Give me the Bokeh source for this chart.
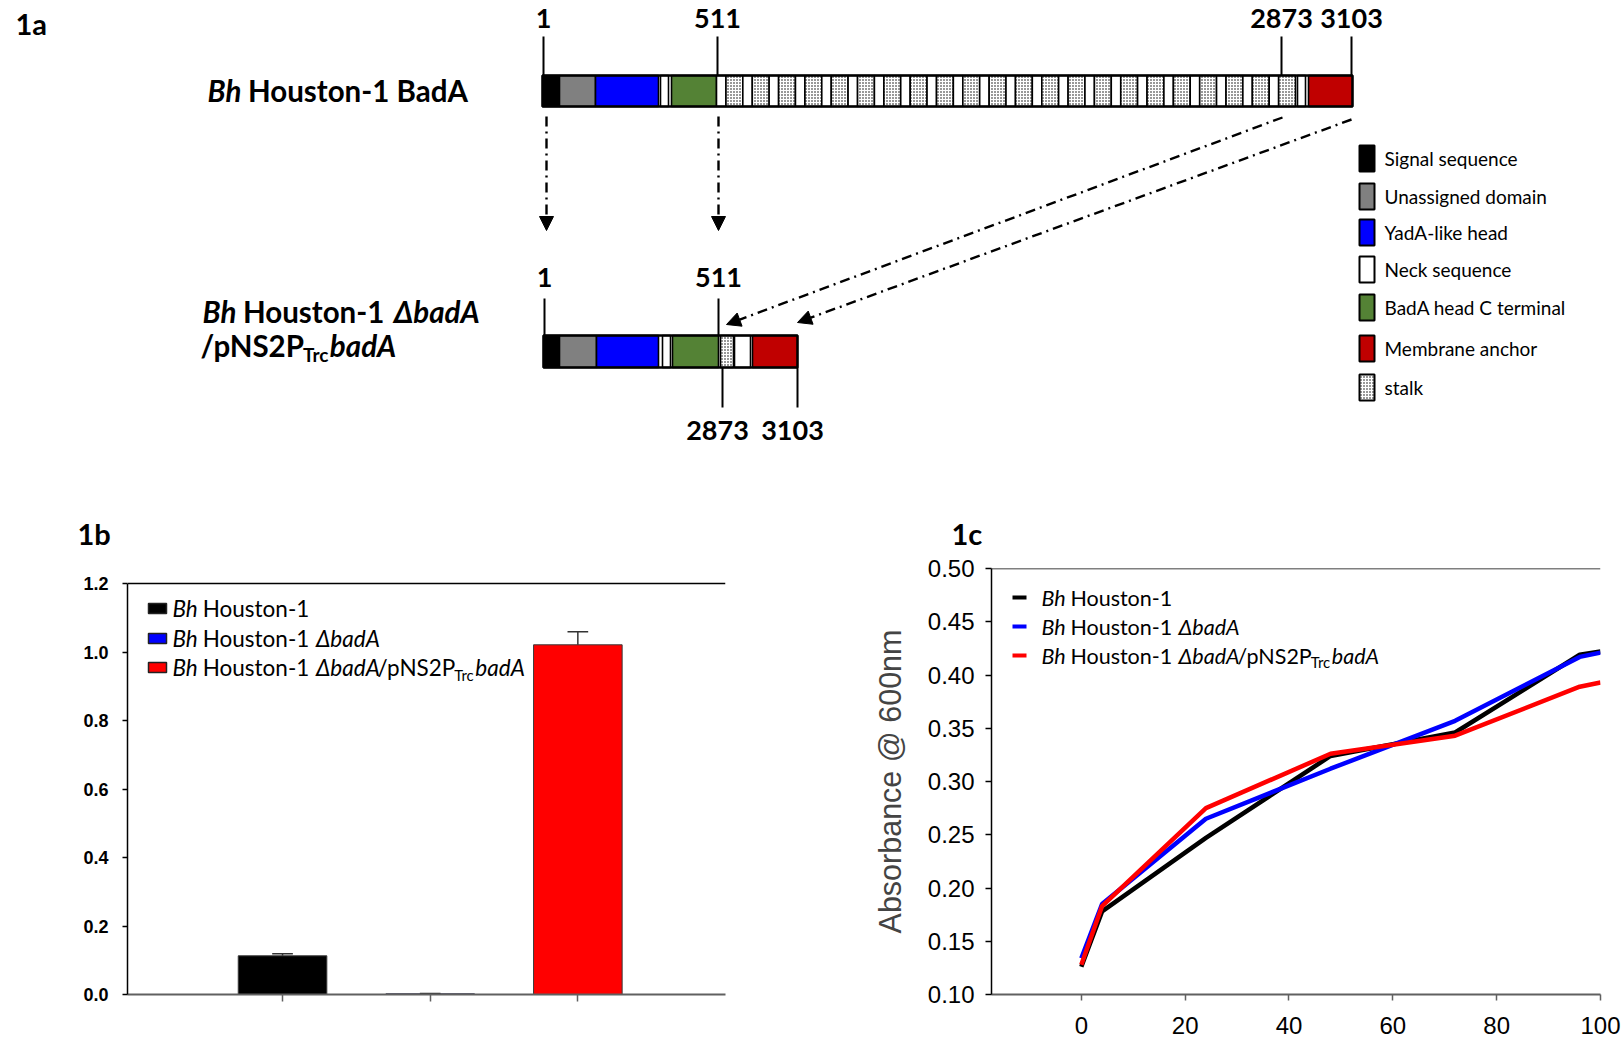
import math
from bokeh.plotting import figure
from bokeh.models import (Range1d, Label, Arrow, NormalHead, Span, FixedTicker,
                          PrintfTickFormatter, ColumnDataSource)
from bokeh.layouts import column, row
from bokeh.embed import file_html
from bokeh.resources import INLINE

# ------------------------------------------------------------------ data
# Panel 1a : schematic domain map of BadA (diagram units)
legend_names = ["Signal sequence", "Unassigned domain", "YadA-like head", "Neck sequence",
                "BadA head C terminal", "Membrane anchor", "stalk"]
legend_colors = ["#000000", "#808080", "#0000ff", "#ffffff", "#548235", "#c00000", "#ffffff"]

full_kind = ["Signal sequence", "Unassigned domain", "YadA-like head", "Neck sequence",
             "BadA head C terminal", "stalk", "Neck sequence", "Membrane anchor"]
full_start = [542, 559, 595, 660, 671, 716, 1297, 1308]
full_end = [559, 595, 658, 668, 716, 1295, 1305, 1352]
full_stalk_repeats = 22

mini_kind = ["Signal sequence", "Unassigned domain", "YadA-like head", "Neck sequence",
             "BadA head C terminal", "stalk", "Neck sequence", "Membrane anchor"]
mini_start = [543, 559, 596, 662, 672, 720, 734, 752]
mini_end = [559, 596, 658, 670, 718, 733, 750, 797]

full_res_labels = ["1", "511", "2873", "3103"]
full_res_pos = [543, 717, 1281, 1351]
mini_res_top_labels = ["1", "511"]
mini_res_top_pos = [544, 718]
mini_res_bot_labels = ["2873", "3103"]
mini_res_bot_pos = [722, 797]

# Panel 1b : badA relative copy number
strains = ["Bh Houston-1", "Bh Houston-1 \u0394badA", "Bh Houston-1 \u0394badA/pNS2PTrcbadA"]
strain_colors = ["#000000", "#0000ff", "#ff0000"]
rcn_x = [1, 2, 3]
rcn = [0.113, 0.002, 1.021]
rcn_err = [0.006, 0.001, 0.038]
rcn_ticks = [0.0, 0.2, 0.4, 0.6, 0.8, 1.0, 1.2]

# Panel 1c : growth curves (absorbance at 600 nm)
hours = [0, 4, 24, 48, 72, 96, 100]
abs_wt = [0.126, 0.178, 0.247, 0.324, 0.346, 0.419, 0.422]
abs_del = [0.134, 0.185, 0.265, 0.312, 0.357, 0.417, 0.421]
abs_comp = [0.128, 0.183, 0.275, 0.326, 0.343, 0.389, 0.393]
hour_ticks = [0, 20, 40, 60, 80, 100]
abs_ticks = [0.10, 0.15, 0.20, 0.25, 0.30, 0.35, 0.40, 0.45, 0.50]

# ------------------------------------------------------------------ text helpers
CAL_R = {' ': 463, '-': 627, '/': 793, '.': 517, 'A': 1185, 'B': 1114, 'H': 1276, 'N': 1322,
         'P': 1058, 'S': 941, 'T': 998, 'a': 981, 'b': 1076, 'c': 866, 'd': 1076, 'e': 1019,
         'h': 1076, 'i': 470, 'n': 1076, 'o': 1080, 'p': 1076, 'r': 714, 's': 801, 't': 686,
         'u': 1076, '\u0394': 1185}
CAL_B = {' ': 463, '-': 627, '/': 812, '.': 517, 'A': 1235, 'B': 1147, 'H': 1292, 'N': 1347,
         'P': 1087, 'S': 968, 'T': 1005, 'a': 1011, 'b': 1100, 'c': 856, 'd': 1100, 'e': 1030,
         'h': 1100, 'i': 503, 'n': 1100, 'o': 1100, 'p': 1100, 'r': 727, 's': 817, 't': 710,
         'u': 1100, '\u0394': 1235}
LATO_K = 1.12
ITALIC_K = 0.91


def tw(text, size, bold=False, italic=False):
    tab = CAL_B if bold else CAL_R
    k = LATO_K * (ITALIC_K if italic else 1.0)
    return sum(tab.get(ch, 1038) for ch in text) / 2048.0 * size * k


def add_label(fig, x, y, text, size, style="normal", font="Lato", align="left",
              baseline="middle", angle=0.0, color="black"):
    fig.add_layout(Label(x=x, y=y, text=text, text_font=font, text_font_size=f"{size}px",
                         text_font_style=style, text_align=align, text_baseline=baseline,
                         angle=angle, text_color=color))


def rich(fig, conv, px, py, segs):
    """segs: (text, style, size, dy); placed left to right from page point px, py (centre line)."""
    x = px
    for text, style, size, dy in segs:
        bold = "bold" in style
        italic = "italic" in style
        core = text.strip(" ")
        lead = len(text) - len(text.lstrip(" "))
        trail = len(text) - len(text.rstrip(" "))
        x += tw(" " * lead, size, bold)
        X, Y = conv(x, py + dy)
        add_label(fig, X, Y, core, size, style)
        x += tw(core, size, bold, italic) + tw(" " * trail, size, bold)


def legend_segs(i, size, bold=False):
    it = "bold italic" if bold else "italic"
    nm = "bold" if bold else "normal"
    segs = [("Bh", it, size, 0), (" Houston-1" + (" " if i > 0 else ""), nm, size, 0)]
    if i >= 1:
        segs.append(("\u0394badA", it, size, 0))
    if i == 2:
        segs += [("/pNS2P", nm, size, 0), ("Trc", nm, round(size * 0.68), size * 0.32),
                 ("badA", it, size, 0)]
    return segs


# ------------------------------------------------------------------ layout constants (page px)
W_TOTAL, H_TOTAL = 1622, 1040
H_A = 553
W_B = 810
B_L, B_R, B_T, B_B = 127, 725, 583, 994     # 1b frame (B_T = top of the 1.2 line)
C_L, C_R, C_T, C_B = 991, 1600, 568, 994    # 1c frame
ROW_H = H_TOTAL - H_A
FR_T = min(B_T, C_T)                        # frames in a row share their top

# ------------------------------------------------------------------ panel 1a
pa = figure(width=W_TOTAL, height=H_A, x_range=Range1d(0, W_TOTAL), y_range=Range1d(H_A, 0),
            output_backend="svg", toolbar_location=None, min_border=0,
            x_axis_location=None, y_axis_location=None)
pa.grid.visible = False
pa.outline_line_color = None
ident = lambda x, y: (x, y)
color_of = dict(zip(legend_names, legend_colors))
HATCH = dict(hatch_color="black", hatch_scale=3.0, hatch_weight=2.0)


def draw_bar(starts, ends, kinds, y0, y1, repeats):
    L, R, F, H = [], [], [], []
    for s, e, k in zip(starts, ends, kinds):
        if k == "stalk":
            n = repeats
            unit = (e - s) / n
            for i in range(n):
                a = s + i * unit
                if n > 1:
                    L += [a, a + unit * 0.36]
                    R += [a + unit * 0.36, a + unit]
                    F += ["#ffffff", "#ffffff"]
                    H += [" ", "dot"]
                else:
                    L.append(a); R.append(a + unit); F.append("#ffffff"); H.append("dot")
        else:
            L.append(s); R.append(e); F.append(color_of[k]); H.append(" ")
    src = ColumnDataSource(dict(left=L, right=R, fill=F, hatch=H))
    pa.quad(left="left", right="right", top=y0, bottom=y1, source=src, fill_color="fill",
            line_color="black", line_width=1.6, hatch_pattern="hatch", **HATCH)
    pa.quad(left=[starts[0]], right=[ends[-1]], top=[y0], bottom=[y1], fill_color=None,
            line_color="black", line_width=2.4)


draw_bar(full_start, full_end, full_kind, 75, 106, full_stalk_repeats)
draw_bar(mini_start, mini_end, mini_kind, 335, 367, 1)

# residue ticks and numbers
pa.segment(x0=full_res_pos, y0=[36] * 4, x1=full_res_pos, y1=[75] * 4, line_color="black", line_width=2)
for t, xpos in zip(full_res_labels, full_res_pos):
    add_label(pa, xpos, 18, t, 27, "bold", align="center")
pa.segment(x0=mini_res_top_pos, y0=[298] * 2, x1=mini_res_top_pos, y1=[335] * 2, line_color="black", line_width=2)
for t, xpos in zip(mini_res_top_labels, mini_res_top_pos):
    add_label(pa, xpos, 277, t, 27, "bold", align="center")
pa.segment(x0=mini_res_bot_pos, y0=[367] * 2, x1=mini_res_bot_pos, y1=[407] * 2, line_color="black", line_width=2)
for t, xpos in zip(mini_res_bot_labels, [717, 792]):
    add_label(pa, xpos, 430, t, 27, "bold", align="center")

# dash-dot arrows mapping the full protein to the truncated construct
arrows = [(546, 116, 546, 230), (718, 116, 718, 230), (1282, 117, 726, 324), (1351, 119, 797, 322)]
for xs, ys, xe, ye in arrows:
    pa.add_layout(Arrow(x_start=xs, y_start=ys, x_end=xe, y_end=ye, line_width=2.4,
                        line_dash="10 5 2 5", line_color="black",
                        end=NormalHead(size=14, fill_color="black", line_color="black", line_width=1)))

# legend for domains
leg_rows = [158, 196, 232, 269, 307, 348, 387]
for name, col, yc in zip(legend_names, legend_colors, leg_rows):
    pa.quad(left=[1359], right=[1374], top=[yc - 13], bottom=[yc + 13], fill_color=col,
            line_color="black", line_width=2,
            hatch_pattern="dot" if name == "stalk" else " ", **HATCH)
    add_label(pa, 1384, yc, name, 19, "normal")

# titles / construct names
add_label(pa, 15, 23, "1a", 29, "bold")
rich(pa, ident, 207, 90, [("Bh", "bold italic", 29.5, 0), (" Houston-1 BadA", "bold", 29.5, 0)])
rich(pa, ident, 202, 311, [("Bh", "bold italic", 29.5, 0), (" Houston-1 ", "bold", 29.5, 0),
                           ("\u0394badA", "bold italic", 29.5, 0)])
rich(pa, ident, 200, 345, [("/pNS2P", "bold", 29.5, 0), ("Trc", "bold", 19, 9),
                           ("badA", "bold italic", 29.5, 0)])
add_label(pa, 77, 533, "1b", 29, "bold")
add_label(pa, 951, 533, "1c", 29, "bold")

# ------------------------------------------------------------------ panel 1b
b_xmin, b_xmax = -0.05, 4.0
b_ymax = 1.2 * (B_B - FR_T) / (B_B - B_T)
pb = figure(width=W_B, height=ROW_H, x_range=Range1d(b_xmin, b_xmax), y_range=Range1d(0, b_ymax),
            output_backend="svg", toolbar_location=None,
            min_border_left=B_L, min_border_right=W_B - B_R,
            min_border_top=FR_T - H_A, min_border_bottom=H_TOTAL - B_B)
pb.grid.visible = False
pb.outline_line_color = None
bconv = lambda x, y: (b_xmin + (x - B_L) / (B_R - B_L) * (b_xmax - b_xmin),
                      (B_B - y) / (B_B - B_T) * 1.2)

pb.vbar(x=rcn_x, top=rcn, width=0.6, fill_color=strain_colors, line_color="#3a3a3a", line_width=1)
err_top = [v + e for v, e in zip(rcn, rcn_err)]
pb.segment(x0=rcn_x, y0=rcn, x1=rcn_x, y1=err_top, line_color="#333333", line_width=1.5)
pb.segment(x0=[x - 0.07 for x in rcn_x], y0=err_top, x1=[x + 0.07 for x in rcn_x], y1=err_top,
           line_color="#333333", line_width=1.5)
pb.segment(x0=[b_xmin], y0=[1.2], x1=[b_xmax], y1=[1.2], line_color="black", line_width=1.5)

# category axis: unlabeled tick marks only (drawn as minor ticks, which carry no labels)
pb.xaxis.ticker = FixedTicker(ticks=[], minor_ticks=rcn_x)
pb.xaxis.axis_line_color = "#606060"
pb.xaxis.axis_line_width = 2
pb.xaxis.minor_tick_line_color = "#606060"
pb.xaxis.minor_tick_line_width = 1.5
pb.xaxis.minor_tick_in = 0
pb.xaxis.minor_tick_out = 7
pb.yaxis.bounds = (0, 1.2)
pb.yaxis.ticker = FixedTicker(ticks=rcn_ticks)
pb.yaxis.formatter = PrintfTickFormatter(format="%.1f")
pb.yaxis.major_label_text_font = "Liberation Sans"
pb.yaxis.major_label_text_font_style = "bold"
pb.yaxis.major_label_text_font_size = "18px"
pb.yaxis.major_label_text_color = "black"
pb.yaxis.major_label_standoff = 14
pb.yaxis.axis_line_color = "black"
pb.yaxis.axis_line_width = 1.5
pb.yaxis.major_tick_in = 0
pb.yaxis.major_tick_out = 5
pb.yaxis.major_tick_line_width = 1.5
pb.yaxis.minor_tick_line_color = None

# y-axis title: "badA RCN" rotated
ylab_size = 22
w1 = sum({'b': .611, 'a': .556, 'd': .611, 'A': .722}[c] for c in "badA") * ylab_size
w_sp = 0.278 * ylab_size
y_start = 787 + (w1 + w_sp + 3 * 0.722 * ylab_size) / 2
X, Y = bconv(63, y_start)
add_label(pb, X, Y, "badA", ylab_size, "bold italic", font="Liberation Sans", angle=math.pi / 2)
X, Y = bconv(63, y_start - w1 - w_sp)
add_label(pb, X, Y, "RCN", ylab_size, "bold", font="Liberation Sans", angle=math.pi / 2)

# legend
b_rows = [608, 638, 667]
for i, (col, yc) in enumerate(zip(strain_colors, b_rows)):
    x0, y0 = bconv(148, yc - 5)
    x1, y1 = bconv(166, yc + 5)
    pb.quad(left=[x0], right=[x1], top=[y0], bottom=[y1], fill_color=col, line_color="#222222", line_width=1.5)
    rich(pb, bconv, 172, yc, legend_segs(i, 22.5))

# ------------------------------------------------------------------ panel 1c
c_xmin, c_xmax = -17.3, 100.0
c_ymin, c_ymax = 0.10, 0.50
pc = figure(width=W_TOTAL - W_B, height=ROW_H, x_range=Range1d(c_xmin, c_xmax),
            y_range=Range1d(c_ymin, c_ymax),
            output_backend="svg", toolbar_location=None,
            min_border_left=C_L - W_B, min_border_right=W_TOTAL - C_R,
            min_border_top=FR_T - H_A, min_border_bottom=H_TOTAL - C_B)
pc.grid.visible = False
pc.outline_line_color = None
cconv = lambda x, y: (c_xmin + (x - C_L) / (C_R - C_L) * (c_xmax - c_xmin),
                      c_ymin + (C_B - y) / (C_B - C_T) * (c_ymax - c_ymin))

for ys, col in zip([abs_wt, abs_del, abs_comp], strain_colors):
    pc.line(hours, ys, line_color=col, line_width=4.5)
pc.add_layout(Span(location=c_ymax, dimension="width", line_color="black", line_width=1.5))

pc.xaxis.ticker = FixedTicker(ticks=hour_ticks)
pc.yaxis.ticker = FixedTicker(ticks=abs_ticks)
pc.yaxis.formatter = PrintfTickFormatter(format="%.2f")
for ax in (pc.xaxis, pc.yaxis):
    ax.major_label_text_font = "Liberation Sans"
    ax.major_label_text_font_size = "24px"
    ax.major_label_text_color = "black"
    ax.major_tick_in = 0
    ax.major_tick_out = 6
    ax.major_tick_line_width = 1.5
    ax.minor_tick_line_color = None
pc.xaxis.axis_line_color = "#606060"
pc.xaxis.axis_line_width = 2
pc.xaxis.major_tick_line_color = "#606060"
pc.xaxis.major_label_standoff = 16
pc.yaxis.major_label_standoff = 11
pc.yaxis.axis_line_color = "black"
pc.yaxis.axis_line_width = 1.5
pc.yaxis.axis_label = "Absorbance @ 600nm"
pc.yaxis.axis_label_text_font = "Liberation Sans"
pc.yaxis.axis_label_text_font_style = "normal"
pc.yaxis.axis_label_text_font_size = "30.5px"
pc.yaxis.axis_label_standoff = 18

c_rows = [597, 626, 655]
for i, (col, yc) in enumerate(zip(strain_colors, c_rows)):
    x0, y0 = cconv(1012, yc)
    x1, _ = cconv(1026, yc)
    pc.segment(x0=[x0], y0=[y0], x1=[x1], y1=[y0], line_color=col, line_width=4)
    rich(pc, cconv, 1041, yc, legend_segs(i, 21.5))

layout = column(pa, row(pb, pc))
open("out.html", "w").write(file_html(layout, INLINE))
